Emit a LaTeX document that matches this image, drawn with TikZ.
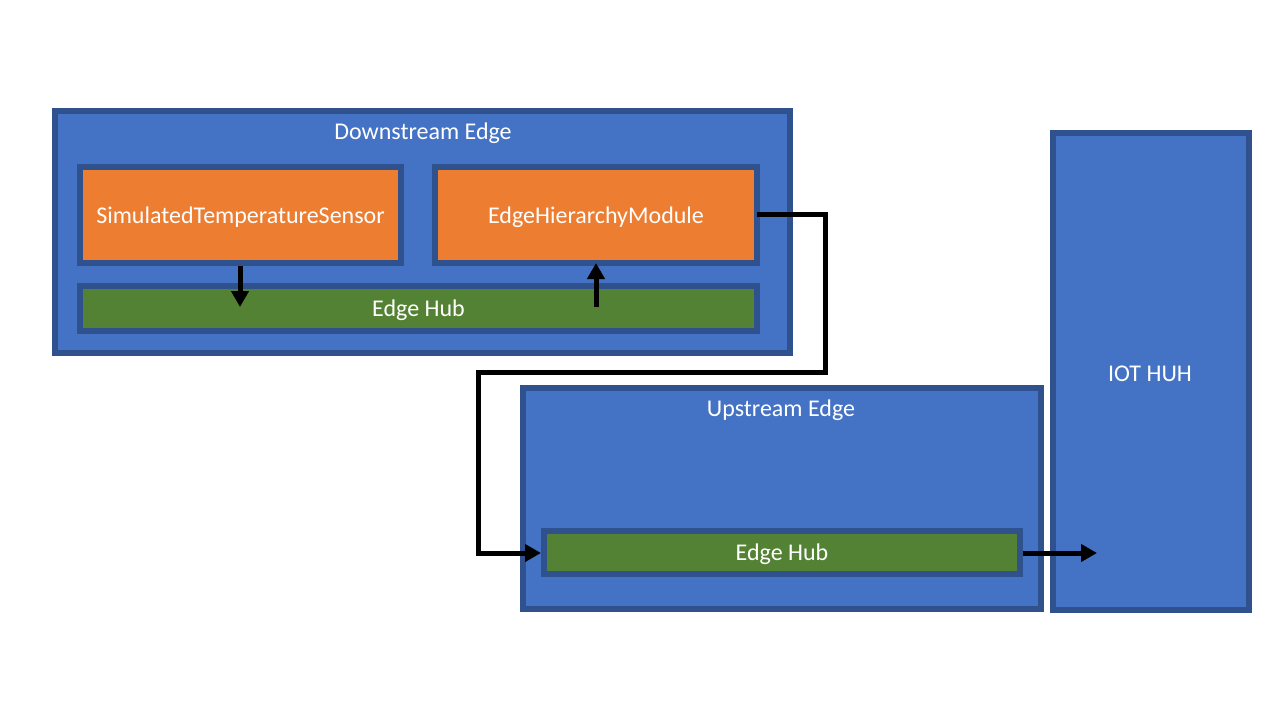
\documentclass[tikz,border=0pt]{standalone}
\usepackage{fontspec}
\setmainfont{Carlito}
\usetikzlibrary{arrows.meta}
\definecolor{boxblue}{HTML}{4472C4}
\definecolor{edgeblue}{HTML}{2F528F}
\definecolor{modorange}{HTML}{ED7D31}
\definecolor{hubgreen}{HTML}{548235}
\begin{document}
\begin{tikzpicture}[x=1pt,y=-1pt,
  lbl/.style={text=white,font=\fontsize{24}{28}\selectfont,text height=16pt,text depth=0pt},
  container/.style={draw=edgeblue,fill=boxblue,line width=6pt,inner sep=0pt,anchor=north west},
  module/.style={lbl,draw=edgeblue,fill=modorange,line width=6pt,inner sep=0pt,anchor=north west},
  hub/.style={lbl,draw=edgeblue,fill=hubgreen,line width=6pt,inner sep=0pt,anchor=north west},
  title/.style={lbl,inner sep=0pt},
  flow/.style={line width=5pt,-{Triangle[width=17pt,length=16pt]}}]
\useasboundingbox (0,0) rectangle (1280,720);
% containers
\node[container,minimum width=735pt,minimum height=242pt] (down) at (52,108) {};
\node[title] (downt) at (423,131) {Downstream Edge};
\node[module,minimum width=321pt,minimum height=96pt] (sim) at (77,164) {SimulatedTemperatureSensor};
\node[module,minimum width=322pt,minimum height=96pt] (ehm) at (432,164) {EdgeHierarchyModule};
\node[hub,minimum width=677pt,minimum height=45pt] (dhub) at (77,283) {Edge Hub};
\node[container,minimum width=518pt,minimum height=221pt] (up) at (520,385) {};
\node[title] (upt) at (781,408) {Upstream Edge};
\node[hub,minimum width=476pt,minimum height=43pt] (uhub) at (541,528) {Edge Hub};
\node[container,minimum width=196pt,minimum height=477pt] (iot) at (1050,130) {};
\node[title] (iott) at (1150,373) {IOT HUH};
% connectors
\coordinate (simtip) at (240,307);
\coordinate (ehmtip) at (596,263);
\coordinate (iottip) at (1097,553);
\draw[flow] (sim.south -| simtip) -- (simtip);
\draw[flow] (596,307) -- (ehmtip);
\draw[flow] (757,214) -- (825,214) -- (825,372) -- (478,372) -- (478,553) -- (uhub.west |- 0,553);
\draw[flow] (uhub.east |- 0,553) -- (iottip);
\end{tikzpicture}
\end{document}
